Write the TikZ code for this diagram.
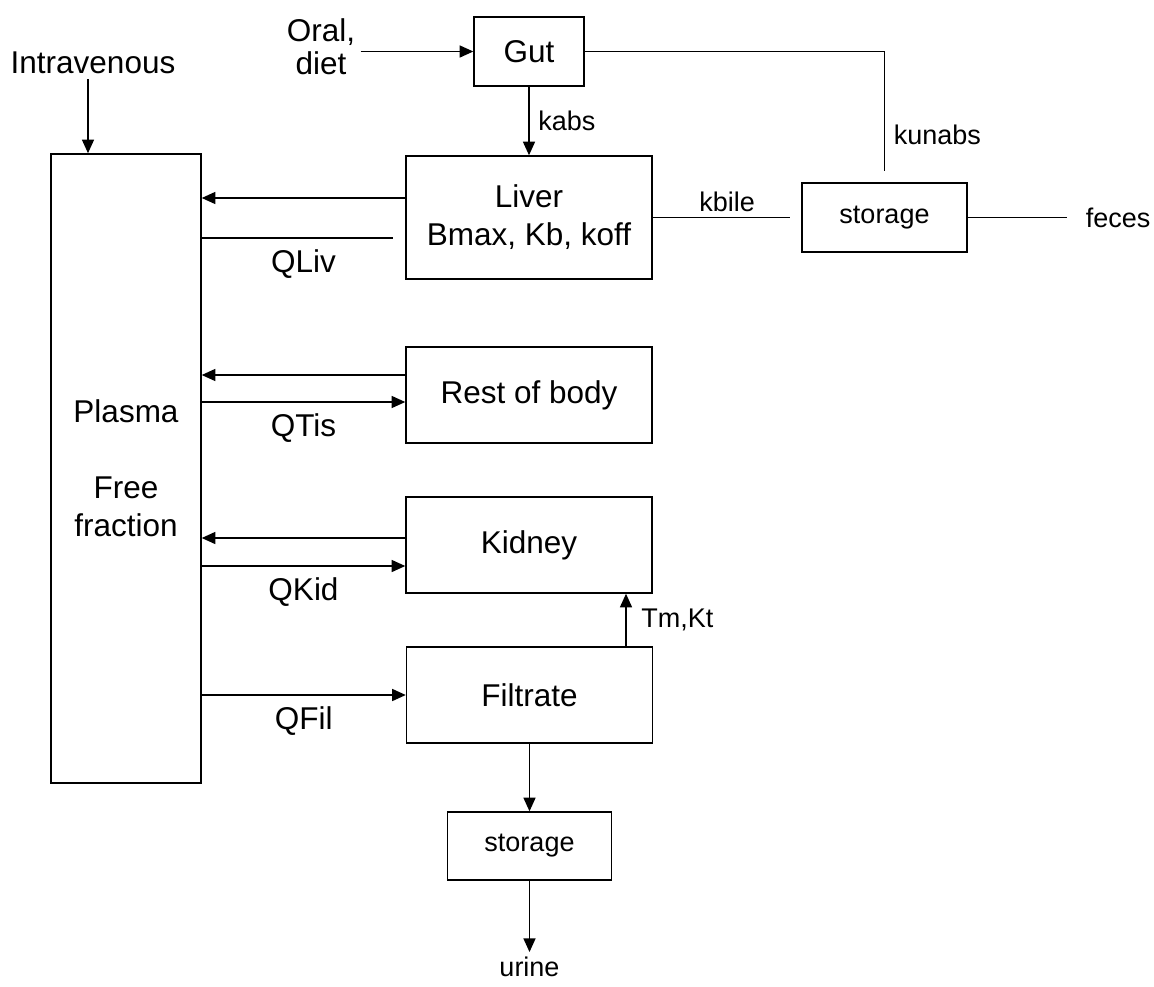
\documentclass[tikz,border=0pt]{standalone}
\usepackage{fontspec}
\setmainfont{Liberation Sans}
\usetikzlibrary{arrows.meta}
\begin{document}
\begin{tikzpicture}[x=0.025cm,y=-0.025cm,line width=1pt,>={Triangle[length=0.34cm,width=0.3cm]},
	big/.style={font=\fontsize{22.4}{27}\selectfont},
	small/.style={font=\fontsize{19.2}{23}\selectfont},
	box/.style={draw,big,align=center},
	flow/.style={big,below=0.15cm}]
	\useasboundingbox (0,0) rectangle (1154,986);
	% compartments
	\node[box,minimum width=3.75cm,minimum height=15.725cm] (plasma) at (126,468.5) {Plasma\\[27pt]Free\\fraction};
	\node[big] (iv) at (93,63) {Intravenous};
	\node[align=center,font=\fontsize{22.4}{23.4}\selectfont] (oral) at (321,47) {Oral,\\diet};
	\node[box,minimum width=2.75cm,minimum height=1.725cm] (gut) at (529,51.5) {Gut};
	\node[box,minimum width=6.15cm,minimum height=3.075cm] (liver) at (529,217.5) {Liver\\Bmax, Kb, koff};
	\node[box,small,minimum width=4.125cm,minimum height=1.725cm] (fstore) at (884.5,217.5) {storage};
	\node[small] (feces) at (1118,217.5) {feces};
	\node[box,minimum width=6.15cm,minimum height=2.4cm] (rest) at (529,395) {Rest of body};
	\node[box,minimum width=6.15cm,minimum height=2.4cm] (kid) at (529,545) {Kidney};
	\node[box,minimum width=6.15cm,minimum height=2.4cm] (filt) at (529.5,695) {Filtrate};
	\node[box,small,minimum width=4.1cm,minimum height=1.7cm] (ustore) at (529.5,846) {storage};
	\node[small,anchor=north] (urine) at (529.5,952) {urine};
	% inputs and gut
	\draw[->] (iv.south -| 88,0) -- (plasma.north -| 88,0);
	\draw[->] (oral.east |- gut.west) -- (gut.west);
	\draw[->] (gut) -- (liver) node[midway,small,right=0.1cm] {kabs};
	\draw[shorten >=0.28cm] (gut) -| (fstore) node[pos=0.82,small,right=0.1cm] {kunabs};
	% liver
	\draw[->] (liver.west |- 0,198) -- (plasma.east |- 0,198);
	\draw[shorten >=0.3cm] (plasma.east |- 0,238) -- (liver.west |- 0,238) node[midway,flow] {QLiv};
	\draw[shorten >=0.28cm] (liver.east) -- (fstore.west) node[midway,small,above] {kbile};
	\draw[shorten >=0.33cm] (fstore) -- (feces);
	% tissues and kidney
	\draw[->] (rest.west |- 0,375) -- (plasma.east |- 0,375);
	\draw[->] (plasma.east |- 0,402) -- (rest.west |- 0,402) node[midway,flow] {QTis};
	\draw[->] (kid.west |- 0,538) -- (plasma.east |- 0,538);
	\draw[->] (plasma.east |- 0,566) -- (kid.west |- 0,566) node[midway,flow] {QKid};
	\draw[->] (plasma.east |- filt.west) -- (filt.west) node[midway,flow] {QFil};
	\draw[->] (filt.north -| 626,0) -- (kid.south -| 626,0) node[midway,small,right=0.25cm] {Tm,Kt};
	\draw[->] (filt) -- (ustore);
	\draw[->] (ustore) -- (urine);
\end{tikzpicture}
\end{document}
